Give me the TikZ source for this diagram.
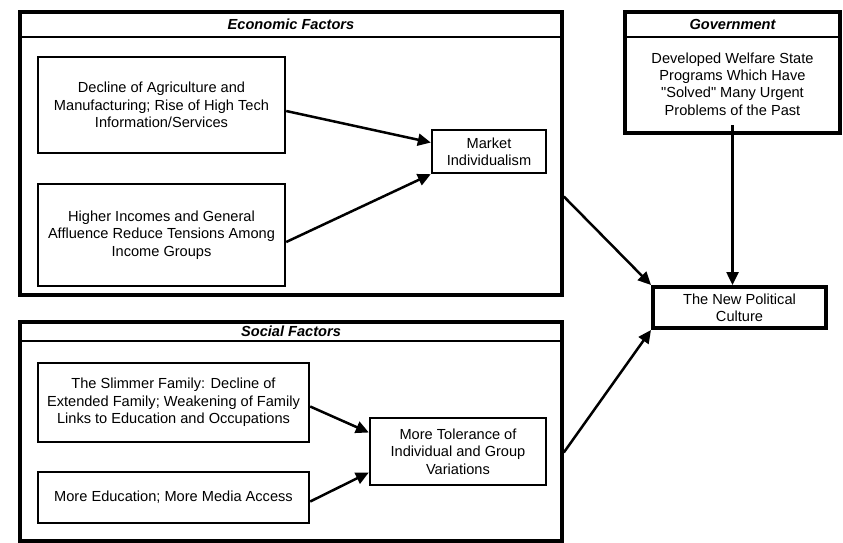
\documentclass[tikz,border=0pt]{standalone}
\usepackage{fontspec}
\setmainfont{Liberation Sans}[Ligatures=TeXOff]
\usetikzlibrary{arrows.meta}

\tikzset{
  factorbox/.style={draw, line width=3.6pt, inner sep=0pt},
  headtext/.style={inner sep=0pt, font=\bfseries\itshape\fontsize{14.6}{17}\selectfont},
  causebox/.style={draw, line width=2.4pt, align=center, inner sep=2pt,
    font=\fontsize{14.6}{17.3}\selectfont},
  outcome/.style={causebox, line width=4pt},
  link/.style={line width=2.5pt, -{Triangle[length=13pt,width=12pt]}}
}

\begin{document}
\begin{tikzpicture}[x=1pt, y=-1pt]
\useasboundingbox (0,0) rectangle (843,542);

% economic factors
\node[headtext, minimum width=542pt, minimum height=25pt] (econhead) at (291,24.5) {Economic Factors};
\draw[line width=1.8pt] (econhead.south west) -- (econhead.south east);
\node[factorbox, minimum width=542pt, minimum height=283pt] (econ) at (291,153.5) {};
\node[causebox, minimum width=247pt, minimum height=96pt] (decline) at (161.5,105)
  {Decline of Agriculture and\\Manufacturing; Rise of High Tech\\Information/Services};
\node[causebox, minimum width=247pt, minimum height=102pt] (income) at (161.5,235)
  {Higher Incomes and General\\Affluence Reduce Tensions Among\\Income Groups};
\node[causebox, minimum width=114pt, minimum height=43pt] (market) at (489,151.5)
  {Market\\Individualism};

% social factors
\node[headtext, minimum width=542pt, minimum height=19pt] (sochead) at (291,331.5) {Social Factors};
\draw[line width=1.8pt] (sochead.south west) -- (sochead.south east);
\node[factorbox, minimum width=542pt, minimum height=219pt] (social) at (291,431.5) {};
\node[causebox, minimum width=271pt, minimum height=79pt] (family) at (173.5,402.5)
  {The Slimmer Family: Decline of\\Extended Family; Weakening of Family\\Links to Education and Occupations};
\node[causebox, minimum width=271pt, minimum height=51pt] (media) at (173.5,497.5)
  {More Education; More Media Access};
\node[causebox, minimum width=176pt, minimum height=67pt] (tolerance) at (458,451.5)
  {More Tolerance of\\Individual and Group\\Variations};

% government
\node[headtext, minimum width=215pt, minimum height=25pt] (govhead) at (732.5,24.5) {Government};
\draw[line width=1.8pt] (govhead.south west) -- (govhead.south east);
\node[align=center, inner sep=0pt, font=\fontsize{14.6}{17.3}\selectfont] (welfare) at (732.5,84)
  {Developed Welfare State\\Programs Which Have\\"Solved" Many Urgent\\Problems of the Past};
\node[factorbox, line width=4pt, minimum width=215pt, minimum height=121pt] (gov) at (732.5,72.5) {};

\node[outcome, minimum width=173pt, minimum height=41pt] (culture) at (739.5,307.5)
  {The New Political\\Culture};

% arrows
\draw[link] ([yshift=-6pt]decline.east) -- ([yshift=9pt]market.west);
\draw[link] ([yshift=-7pt]income.east) -- (market.south west);
\draw[link] ([yshift=-4pt]family.east) -- ([yshift=19pt]tolerance.west);
\draw[link] ([yshift=-4pt]media.east) -- ([yshift=-21pt]tolerance.west);
\draw[link] ([yshift=-43pt]econ.east) -- (culture.north west);
\draw[link] ([yshift=-21pt]social.east) -- (culture.south west);
\draw[link] ([yshift=10pt]gov.south) -- (gov.south |- culture.north);
\end{tikzpicture}
\end{document}
